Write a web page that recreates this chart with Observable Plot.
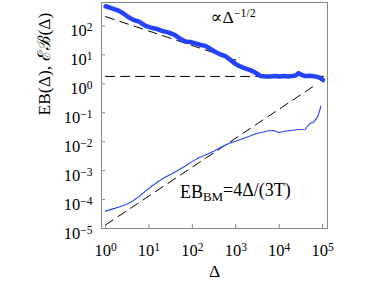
<!DOCTYPE html>
<html>
<head>
<meta charset="utf-8">
<script src="https://cdn.jsdelivr.net/npm/d3@7"></script>
<script src="https://cdn.jsdelivr.net/npm/@observablehq/plot@0.6"></script>
<style>
  html, body { margin: 0; padding: 0; background: white; }
</style>
</head>
<body>
<div id="chart"></div>
<script>
// ---- data ----
const ebDelta = [1, 1.41, 2.04, 2.63, 3.47, 4.57, 5.89, 8.32, 11.2, 15.5, 20.9, 28.8, 39.8, 53.7, 69.2, 89, 117, 158, 200, 251, 339, 437, 575, 759, 1000, 1259, 1585, 1995, 2512, 3162, 3715, 5012, 6310, 7943, 10000, 12589, 15849, 19953, 24000, 28184, 33113, 39811, 50119, 63096, 75858, 87096, 102329];
const ebValue = [479, 407, 331, 263, 195, 158, 141, 100, 87, 78, 66, 59, 48, 35, 29, 28, 25, 22, 20.4, 16.6, 12.6, 10.5, 9.1, 6.6, 4.8, 4.0, 3.47, 3.09, 2.69, 2.19, 1.86, 1.78, 1.78, 1.86, 1.78, 1.86, 1.78, 1.86, 1.95, 2.34, 2.04, 1.86, 1.9, 1.82, 1.74, 1.62, 1.35];

const ebbDelta = [1, 1.41, 2.04, 2.88, 4.17, 5.89, 8.32, 11.7, 17, 24, 34.7, 49, 69, 100, 141, 200, 309, 447, 631, 891, 1288, 1995, 3090, 3715, 5248, 7413, 9772, 13183, 18197, 28184, 39811, 45709, 50119, 61660, 70795, 77625, 85114, 91201];
const ebbValue = [3.98e-5, 4.68e-5, 5.5e-5, 6.6e-5, 8.7e-5, 1.26e-4, 1.95e-4, 2.95e-4, 4.37e-4, 6.0e-4, 7.9e-4, 1.07e-3, 1.45e-3, 2.09e-3, 2.8e-3, 3.5e-3, 4.7e-3, 6.3e-3, 8.1e-3, 0.01, 0.012, 0.0151, 0.0195, 0.0204, 0.0234, 0.0245, 0.0209, 0.0229, 0.0245, 0.0263, 0.0269, 0.0355, 0.0417, 0.0468, 0.060, 0.0776, 0.112, 0.17];

// reference (dashed) lines: endpoints
const powerDelta = [1, 1000];
const powerValue = [210, 6.64];
const plateauDelta = [1, 105000];
const plateauValue = [1.8, 1.8];
const bmDelta = [1, 74000];
const bmValue = [1.33e-5, 0.985];

const xTicks = [1, 10, 100, 1000, 10000, 100000];
const yTicks = [1e-5, 1e-4, 1e-3, 1e-2, 1e-1, 1, 10, 100];

const xLabel = "Δ";
const yLabel = "EB(Δ), ℰℬ(Δ)";
const annPower = {text: "∝Δ|−1/2", x: 263, y: 205};
const annBM = {text: "EB|BM|=4Δ/(3T)", x: 51.6, y: 1.86e-4};

const rows = (xs, ys) => xs.map((x, i) => ({x, y: ys[i]}));

const fmt = d => String(Math.round(Math.log10(d))).replace("-", "−");
const blue = "#2343ff";
const font = "'Liberation Serif', 'DejaVu Serif', serif";

const svg = Plot.plot({
  width: 371,
  height: 286,
  marginLeft: 101,
  marginRight: 44,
  marginTop: 2,
  marginBottom: 58,
  style: {fontFamily: font, fontSize: "16.5px", background: "white", color: "black"},
  x: {type: "log", domain: [0.805, 130000]},
  y: {type: "log", domain: [1e-5, 646]},
  marks: [
    Plot.line(rows(powerDelta, powerValue), {x: "x", y: "y", stroke: "black", strokeWidth: 1, strokeDasharray: "9,6"}),
    Plot.line(rows(plateauDelta, plateauValue), {x: "x", y: "y", stroke: "black", strokeWidth: 1, strokeDasharray: "9,6"}),
    Plot.line(rows(bmDelta, bmValue), {x: "x", y: "y", stroke: "black", strokeWidth: 1, strokeDasharray: "9,6"}),
    Plot.line(rows(ebDelta, ebValue), {x: "x", y: "y", stroke: blue, strokeWidth: 4.5, curve: "linear"}),
    Plot.line(rows(ebbDelta, ebbValue), {x: "x", y: "y", stroke: blue, strokeWidth: 1.1}),
    Plot.frame({stroke: "#888", strokeWidth: 1}),
    Plot.tickX(xTicks, {x: d => d, insetTop: 222, stroke: "#888"}),
    Plot.tickY(yTicks, {y: d => d, insetRight: 222, stroke: "#888"}),
    Plot.axisX(xTicks, {tickSize: 0, tickPadding: 16, tickFormat: fmt, fontSize: 16.5, label: null}),
    Plot.axisY(yTicks, {tickSize: 0, tickPadding: 9, dy: 5, tickFormat: fmt, fontSize: 16.5, label: null}),
    Plot.text([xLabel], {frameAnchor: "bottom", dy: 48, fontSize: 17.5}),
    Plot.text([yLabel], {frameAnchor: "left", rotate: -90, dx: -57, fontSize: 17.5}),
    Plot.text([annPower], {x: "x", y: "y", text: "text", textAnchor: "start", fontSize: 17.5}),
    Plot.text([annBM], {x: "x", y: "y", text: "text", textAnchor: "start", fontSize: 18})
  ]
});

const NS = "http://www.w3.org/2000/svg";
function tspan(parent, str, opts = {}) {
  const t = document.createElementNS(NS, "tspan");
  t.textContent = str;
  for (const k in opts) t.setAttribute(k, opts[k]);
  parent.appendChild(t);
  return t;
}

// superscript exponents on tick labels
svg.querySelectorAll('g[aria-label="x-axis tick label"] text, g[aria-label="y-axis tick label"] text').forEach(t => {
  const e = t.textContent;
  t.textContent = "";
  tspan(t, "10");
  tspan(t, e, {dy: "-0.45em", "font-size": "70%"});
});

// rich annotations
svg.querySelectorAll('g[aria-label="text"] text').forEach(t => {
  const s = t.textContent;
  if (s === annPower.text) {
    const [a, b] = s.split("|");
    t.textContent = "";
    tspan(t, a);
    tspan(t, b, {dy: "-0.5em", "font-size": "68%"});
  } else if (s === annBM.text) {
    const [a, b, c] = s.split("|");
    t.textContent = "";
    tspan(t, a);
    tspan(t, b, {dy: "0.3em", "font-size": "72%"});
    tspan(t, c, {dy: "-0.3em"});
  }
});

document.getElementById("chart").appendChild(svg);
</script>
</body>
</html>
